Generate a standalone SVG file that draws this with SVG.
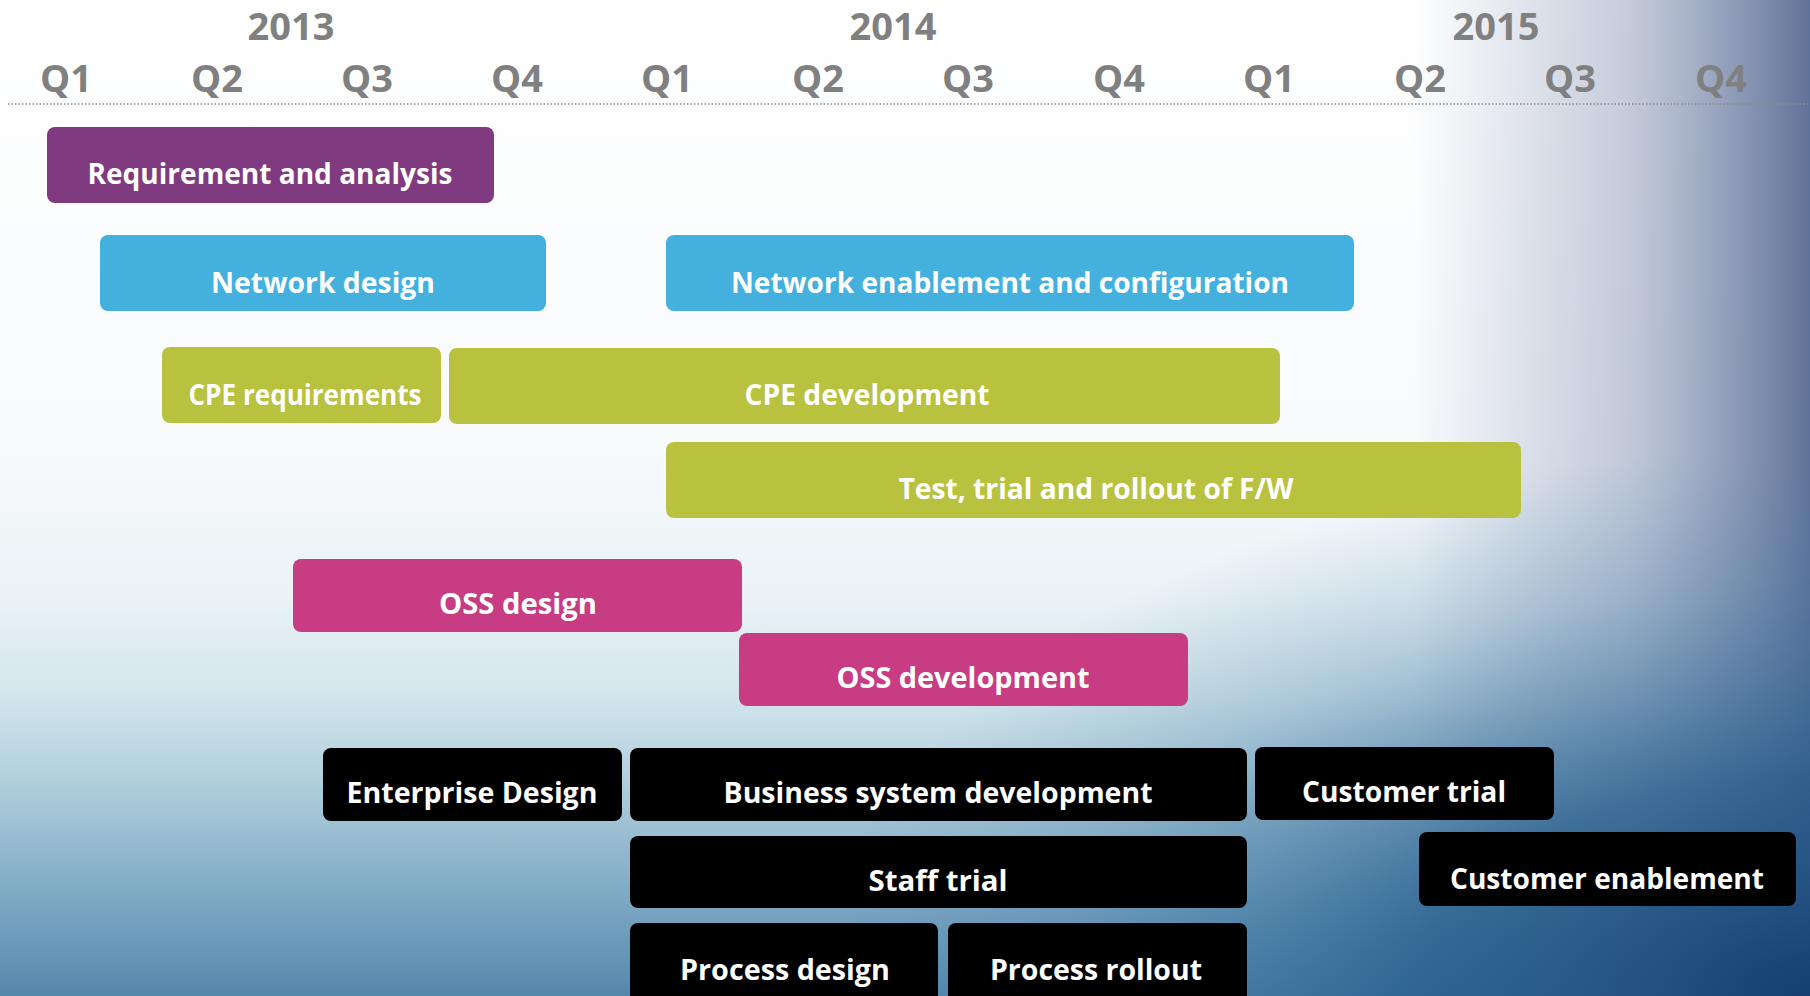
<svg xmlns="http://www.w3.org/2000/svg" width="1810" height="996" viewBox="0 0 1810 996">
<defs>
<linearGradient id="bgV" x1="0" y1="0" x2="0" y2="1">
<stop offset="0" stop-color="#ffffff"/>
<stop offset="0.45" stop-color="#f8fafc"/>
<stop offset="0.6" stop-color="#eaf2f6"/>
<stop offset="0.7" stop-color="#d3e5ec"/>
<stop offset="0.8" stop-color="#aacad9"/>
<stop offset="0.9" stop-color="#7ea9c4"/>
<stop offset="1" stop-color="#5687ac"/>
</linearGradient>
<linearGradient id="bgR" x1="0" y1="0" x2="1" y2="0">
<stop offset="0.78" stop-color="#8a98b6" stop-opacity="0"/>
<stop offset="0.9" stop-color="#8a98b6" stop-opacity="0.5"/>
<stop offset="1" stop-color="#607299" stop-opacity="1"/>
</linearGradient>
<radialGradient id="bgBR" cx="1" cy="1" r="0.55">
<stop offset="0" stop-color="#143f70" stop-opacity="1"/>
<stop offset="0.4" stop-color="#225a8a" stop-opacity="0.75"/>
<stop offset="0.75" stop-color="#3f76a2" stop-opacity="0.25"/>
<stop offset="1" stop-color="#5a8ab0" stop-opacity="0"/>
</radialGradient>
</defs>
<style>
.yr{font-family:"Open Sans","Liberation Sans",sans-serif;font-weight:700;font-size:38px;fill:#808080;text-anchor:middle}
.q{font-family:"Open Sans","Liberation Sans",sans-serif;font-weight:700;font-size:38px;fill:#808080;text-anchor:middle}
.lbl{font-family:"Open Sans","Liberation Sans",sans-serif;font-weight:700;font-size:28px;fill:#ffffff;text-anchor:middle}
.purple{fill:#7f3a80}
.blue{fill:#43b0de}
.green{fill:#b8c23e}
.pink{fill:#c73c83}
.black{fill:#000000}
</style>
<rect x="0" y="0" width="1810" height="996" fill="url(#bgV)"/>
<rect x="0" y="0" width="1810" height="996" fill="url(#bgR)"/>
<rect x="0" y="0" width="1810" height="996" fill="url(#bgBR)"/>

<g id="timeline">
<text class="yr" x="291" y="40">2013</text>
<text class="yr" x="893" y="40">2014</text>
<text class="yr" x="1496" y="40">2015</text>
<text class="q" x="66" y="92">Q1</text>
<text class="q" x="217" y="92">Q2</text>
<text class="q" x="367" y="92">Q3</text>
<text class="q" x="517" y="92">Q4</text>
<text class="q" x="667" y="92">Q1</text>
<text class="q" x="818" y="92">Q2</text>
<text class="q" x="968" y="92">Q3</text>
<text class="q" x="1119" y="92">Q4</text>
<text class="q" x="1269" y="92">Q1</text>
<text class="q" x="1420" y="92">Q2</text>
<text class="q" x="1570" y="92">Q3</text>
<text class="q" x="1721" y="92">Q4</text>
<line x1="8" y1="104" x2="1810" y2="104" stroke="#8a8a8a" stroke-width="1.5" stroke-dasharray="1.5 2"/>
</g>

<g id="connectors"></g>

<g id="n-req"><rect class="purple" x="47" y="127" width="447" height="76" rx="8"/><text class="lbl" x="270" y="184" textLength="365" lengthAdjust="spacingAndGlyphs">Requirement and analysis</text></g>
<g id="n-netdesign"><rect class="blue" x="100" y="235" width="446" height="76" rx="8"/><text class="lbl" x="323" y="293" textLength="224" lengthAdjust="spacingAndGlyphs">Network design</text></g>
<g id="n-netenable"><rect class="blue" x="666" y="235" width="688" height="76" rx="8"/><text class="lbl" x="1010" y="293" textLength="558" lengthAdjust="spacingAndGlyphs">Network enablement and configuration</text></g>
<g id="n-cpereq"><rect class="green" x="162" y="347" width="279" height="76" rx="8"/><text class="lbl" x="305" y="405" textLength="233" lengthAdjust="spacingAndGlyphs">CPE requirements</text></g>
<g id="n-cpedev"><rect class="green" x="449" y="348" width="831" height="76" rx="8"/><text class="lbl" x="867" y="405" textLength="245" lengthAdjust="spacingAndGlyphs">CPE development</text></g>
<g id="n-test"><rect class="green" x="666" y="442" width="855" height="76" rx="8"/><text class="lbl" x="1096" y="499" textLength="395" lengthAdjust="spacingAndGlyphs">Test, trial and rollout of F/W</text></g>
<g id="n-ossdesign"><rect class="pink" x="293" y="559" width="449" height="73" rx="8"/><text class="lbl" x="518" y="614" textLength="158" lengthAdjust="spacingAndGlyphs">OSS design</text></g>
<g id="n-ossdev"><rect class="pink" x="739" y="633" width="449" height="73" rx="8"/><text class="lbl" x="963" y="688" textLength="253" lengthAdjust="spacingAndGlyphs">OSS development</text></g>
<g id="n-enterprise"><rect class="black" x="323" y="748" width="299" height="73" rx="8"/><text class="lbl" x="472" y="803" textLength="251" lengthAdjust="spacingAndGlyphs">Enterprise Design</text></g>
<g id="n-business"><rect class="black" x="630" y="748" width="617" height="73" rx="8"/><text class="lbl" x="938" y="803" textLength="429" lengthAdjust="spacingAndGlyphs">Business system development</text></g>
<g id="n-custtrial"><rect class="black" x="1255" y="747" width="299" height="73" rx="8"/><text class="lbl" x="1404" y="802" textLength="204" lengthAdjust="spacingAndGlyphs">Customer trial</text></g>
<g id="n-staff"><rect class="black" x="630" y="836" width="617" height="72" rx="8"/><text class="lbl" x="938" y="891" textLength="139" lengthAdjust="spacingAndGlyphs">Staff trial</text></g>
<g id="n-custenable"><rect class="black" x="1419" y="832" width="377" height="74" rx="8"/><text class="lbl" x="1607" y="889" textLength="314" lengthAdjust="spacingAndGlyphs">Customer enablement</text></g>
<g id="n-procdesign"><rect class="black" x="630" y="923" width="308" height="85" rx="8"/><text class="lbl" x="785" y="980" textLength="210" lengthAdjust="spacingAndGlyphs">Process design</text></g>
<g id="n-procrollout"><rect class="black" x="948" y="923" width="299" height="85" rx="8"/><text class="lbl" x="1096" y="980" textLength="212" lengthAdjust="spacingAndGlyphs">Process rollout</text></g>
</svg>
